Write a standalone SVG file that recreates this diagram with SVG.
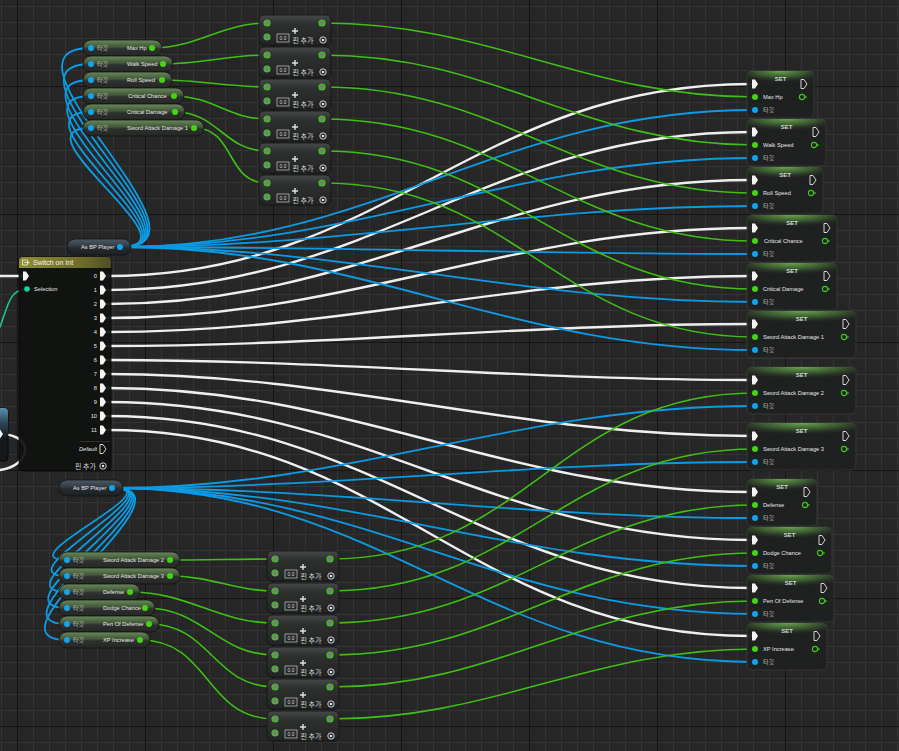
<svg xmlns="http://www.w3.org/2000/svg" width="899" height="751" viewBox="0 0 899 751">
<defs>
<pattern id="minor" patternUnits="userSpaceOnUse" x="1" y="6" width="16" height="16">
<rect width="16" height="16" fill="#262626"/>
<rect width="1" height="16" fill="#333333"/>
<rect width="16" height="1" fill="#333333"/>
</pattern>
<linearGradient id="getG" x1="0" y1="0" x2="0" y2="1">
<stop offset="0" stop-color="#6a8a5a"/>
<stop offset="0.45" stop-color="#40533a"/>
<stop offset="0.55" stop-color="#2d312c"/>
<stop offset="1" stop-color="#252725"/>
</linearGradient>
<linearGradient id="asG" x1="0" y1="0" x2="0" y2="1">
<stop offset="0" stop-color="#4c5a66"/>
<stop offset="0.45" stop-color="#313a42"/>
<stop offset="0.55" stop-color="#242a2e"/>
<stop offset="1" stop-color="#1d2124"/>
</linearGradient>
<linearGradient id="addG" x1="0" y1="0" x2="0" y2="1">
<stop offset="0" stop-color="#474848"/>
<stop offset="0.3" stop-color="#2e2f2f"/>
<stop offset="1" stop-color="#222323"/>
</linearGradient>
<radialGradient id="setH" cx="0.5" cy="0" r="0.75">
<stop offset="0" stop-color="#6aa84e"/>
<stop offset="0.5" stop-color="#3f6233" stop-opacity="0.85"/>
<stop offset="1" stop-color="#262626" stop-opacity="0"/>
</radialGradient>
<linearGradient id="swH" x1="0" y1="0" x2="1" y2="0">
<stop offset="0" stop-color="#8e8e2e"/>
<stop offset="0.7" stop-color="#6c6c28"/>
<stop offset="1" stop-color="#4e4e24"/>
</linearGradient>
<linearGradient id="blH" x1="0" y1="0" x2="0" y2="1">
<stop offset="0" stop-color="#5d8fb0"/>
<stop offset="0.5" stop-color="#2c4656"/>
<stop offset="1" stop-color="#15191c"/>
</linearGradient>
<style>
.t{font-family:"Liberation Sans","Noto Sans CJK KR",sans-serif;font-size:5.7px;fill:#e6e6e6}
.k{font-family:"Noto Sans CJK KR","Liberation Sans",sans-serif;font-size:6px;fill:#bdbdbd}
.k7{font-family:"Noto Sans CJK KR","Liberation Sans",sans-serif;font-size:7px;fill:#d8d8d8}
.st{font-family:"Liberation Sans",sans-serif;font-weight:bold;font-size:6px;fill:#d4d4d4;text-anchor:middle}
.end{text-anchor:end}
.get{fill:url(#getG);stroke:#111;stroke-width:0.8}
.as{fill:url(#asG);stroke:#111;stroke-width:0.8}
.addb{fill:url(#addG);stroke:#111;stroke-width:0.8}
.setb{fill:#1f2020;fill-opacity:0.95;stroke:#3a3b3a;stroke-width:0.8}
.seth{fill:url(#setH)}
.pb{fill:#12a3f0}
.pg{fill:#45d414}
.ap{fill:#7c7c7c;stroke:#3ccb18;stroke-width:1.2}
.ring{fill:none;stroke:#e0e0e0;stroke-width:0.9}
.box{fill:none;stroke:#c8c8c8;stroke-width:0.7}
.t0{font-family:"Liberation Sans",sans-serif;font-size:5px;fill:#d8d8d8;text-anchor:middle}
.plus{stroke:#e0e0e0;stroke-width:1.4;fill:none}
.ex{fill:#f4f4f4}
.exo{fill:none;stroke:#e6e6e6;stroke-width:0.9}
.vo{fill:none;stroke:#3ccb18;stroke-width:1.1}
.vot{fill:#3ccb18}
.wx{stroke:#efefef;stroke-width:2.4}
.wb{stroke:#0c9be2;stroke-width:1.8}
.wg{stroke:#3fbf14;stroke-width:1.6}
</style>
</defs>

<g id="grid">
<rect width="899" height="751" fill="url(#minor)"/>
<g fill="#141414">
<rect x="17" y="0" width="1" height="751"/>
<rect x="145" y="0" width="1" height="751"/>
<rect x="273" y="0" width="1" height="751"/>
<rect x="401" y="0" width="1" height="751"/>
<rect x="529" y="0" width="1" height="751"/>
<rect x="657" y="0" width="1" height="751"/>
<rect x="785" y="0" width="1" height="751"/>
<rect x="0" y="86" width="899" height="1"/>
<rect x="0" y="214" width="899" height="1"/>
<rect x="0" y="342" width="899" height="1"/>
<rect x="0" y="470" width="899" height="1"/>
<rect x="0" y="598" width="899" height="1"/>
<rect x="0" y="726" width="899" height="1"/>
</g>
</g>

<g id="connectors" fill="none" stroke-linecap="round">
<!-- exec -->
<path class="wx" d="M0 276 H24"/>
<path class="wx" d="M2 434 C36 436 30 466 0 470"/>
<path class="wx" d="M107 276 C385 276 473 84 751 84"/>
<path class="wx" d="M107 290 C374 290 484 132 751 132"/>
<path class="wx" d="M107 304 C363 304 495 180 751 180"/>
<path class="wx" d="M107 318 C351 318 507 228 751 228"/>
<path class="wx" d="M107 332 C340 332 518 276 751 276"/>
<path class="wx" d="M107 346 C329 346 529 324 751 324"/>
<path class="wx" d="M107 360 C328 360 530 380 751 380"/>
<path class="wx" d="M107 374 C342 374 516 436 751 436"/>
<path class="wx" d="M107 388 C356 388 502 492 751 492"/>
<path class="wx" d="M107 402 C367 402 491 540 751 540"/>
<path class="wx" d="M107 416 C379 416 479 588 751 588"/>
<path class="wx" d="M107 430 C390 430 468 636 751 636"/>
<!-- selection -->
<path d="M0 327 C8 305 10 289 27 289" stroke="#17c79a" stroke-width="1.6"/>
<!-- blue top loops -->
<path class="wb" d="M121 247 C231 247 -20 48 91 48"/>
<path class="wb" d="M121 247 C225 247 -14 64 91 64"/>
<path class="wb" d="M121 247 C219 247 -8 80 91 80"/>
<path class="wb" d="M121 247 C213 247 -2 96 91 96"/>
<path class="wb" d="M121 247 C207 247 4 112 91 112"/>
<path class="wb" d="M121 247 C201 247 10 128 91 128"/>
<!-- blue top to SET -->
<path class="wb" d="M121 247 C377 247 496 110 755 110"/>
<path class="wb" d="M121 247 C361 247 512 158 755 158"/>
<path class="wb" d="M121 247 C345 247 528 206 755 206"/>
<path class="wb" d="M121 247 C334 247 539 254 755 254"/>
<path class="wb" d="M121 247 C350 247 523 302 755 302"/>
<path class="wb" d="M121 247 C366 247 507 350 755 350"/>
<!-- blue bottom loops -->
<path class="wb" d="M113 488 C175 488 5 560 67 560"/>
<path class="wb" d="M113 488 C181 488 -1 576 67 576"/>
<path class="wb" d="M113 488 C187 488 -7 592 67 592"/>
<path class="wb" d="M113 488 C193 488 -13 608 67 608"/>
<path class="wb" d="M113 488 C199 488 -19 624 67 624"/>
<path class="wb" d="M113 488 C205 488 -25 640 67 640"/>
<!-- blue bottom to SET -->
<path class="wb" d="M113 488 C353 488 512 406 755 406"/>
<path class="wb" d="M113 488 C335 488 530 462 755 462"/>
<path class="wb" d="M113 488 C336 488 529 518 755 518"/>
<path class="wb" d="M113 488 C352 488 513 566 755 566"/>
<path class="wb" d="M113 488 C368 488 497 614 755 614"/>
<path class="wb" d="M113 488 C384 488 481 662 755 662"/>
<!-- green top get to add -->
<path class="wg" d="M152 48 C198 48 221 23 267 23"/>
<path class="wg" d="M163 64 C200 64 230 55 267 55"/>
<path class="wg" d="M162 80 C199 80 230 87 267 87"/>
<path class="wg" d="M174 96 C212 96 229 119 267 119"/>
<path class="wg" d="M175 112 C218 112 224 151 267 151"/>
<path class="wg" d="M194 128 C236 128 225 183 267 183"/>
<!-- green top add to SET -->
<path class="wg" d="M322 23 C491 23 585 97 755 97"/>
<path class="wg" d="M322 55 C497 55 579 145 755 145"/>
<path class="wg" d="M322 87 C502 87 574 193 755 193"/>
<path class="wg" d="M322 119 C507 119 569 241 755 241"/>
<path class="wg" d="M322 151 C513 151 563 289 755 289"/>
<path class="wg" d="M322 183 C518 183 558 337 755 337"/>
<!-- green bottom get to add -->
<path class="wg" d="M170 560 C205 560 240 559 275 559"/>
<path class="wg" d="M170 576 C210 576 236 591 275 591"/>
<path class="wg" d="M130 592 C189 592 217 623 275 623"/>
<path class="wg" d="M145 608 C204 608 217 655 275 655"/>
<path class="wg" d="M149 624 C211 624 213 687 275 687"/>
<path class="wg" d="M140 640 C211 640 204 719 275 719"/>
<!-- green bottom add to SET -->
<path class="wg" d="M330 559 C527 559 557 393 755 393"/>
<path class="wg" d="M330 591 C519 591 565 449 755 449"/>
<path class="wg" d="M330 623 C511 623 573 505 755 505"/>
<path class="wg" d="M330 655 C506 655 578 553 755 553"/>
<path class="wg" d="M330 687 C501 687 583 601 755 601"/>
<path class="wg" d="M330 719 C495 719 589 649 755 649"/>
</g>

<g id="left-node">
<rect x="-12" y="408" width="20" height="53" rx="4" fill="#15181a" stroke="#000" stroke-width="0.8"/>
<rect x="-12" y="408" width="20" height="30" rx="4" fill="url(#blH)"/>
<path class="ex" d="M-3 429.5 h3 l3 4.5 l-3 4.5 h-3 z"/>
</g>

<g id="switch-on-int">
<rect x="19" y="257" width="92" height="214" rx="4" fill="#101210" fill-opacity="0.93" stroke="#050505" stroke-width="0.8"/>
<path d="M19 268 V261 Q19 257 23 257 H107 Q111 257 111 261 V268 Z" fill="url(#swH)"/>
<path d="M22.5 260 h5 v5 h-5 z M24 262.5 h5 M27.5 261 l1.5 1.5 l-1.5 1.5" fill="none" stroke="#f0f0f0" stroke-width="0.8"/>
<text x="33" y="265" style="font-family:'Liberation Sans',sans-serif;font-size:7px;fill:#f2f2f2">Switch on Int</text>
<path class="ex" d="M23 271.5 h3 l3 4.5 l-3 4.5 h-3 z"/>
<circle cx="27" cy="289" r="2.8" fill="#17d0a0"/>
<text class="t" x="34" y="291">Selection</text>
<g class="t end">
<text x="97" y="278">0</text>
<text x="97" y="292">1</text>
<text x="97" y="306">2</text>
<text x="97" y="320">3</text>
<text x="97" y="334">4</text>
<text x="97" y="348">5</text>
<text x="97" y="362">6</text>
<text x="97" y="376">7</text>
<text x="97" y="390">8</text>
<text x="97" y="404">9</text>
<text x="97" y="418">10</text>
<text x="97" y="432">11</text>
</g>
<g class="ex">
<path d="M100 271.5 h3 l3 4.5 l-3 4.5 h-3 z"/>
<path d="M100 285.5 h3 l3 4.5 l-3 4.5 h-3 z"/>
<path d="M100 299.5 h3 l3 4.5 l-3 4.5 h-3 z"/>
<path d="M100 313.5 h3 l3 4.5 l-3 4.5 h-3 z"/>
<path d="M100 327.5 h3 l3 4.5 l-3 4.5 h-3 z"/>
<path d="M100 341.5 h3 l3 4.5 l-3 4.5 h-3 z"/>
<path d="M100 355.5 h3 l3 4.5 l-3 4.5 h-3 z"/>
<path d="M100 369.5 h3 l3 4.5 l-3 4.5 h-3 z"/>
<path d="M100 383.5 h3 l3 4.5 l-3 4.5 h-3 z"/>
<path d="M100 397.5 h3 l3 4.5 l-3 4.5 h-3 z"/>
<path d="M100 411.5 h3 l3 4.5 l-3 4.5 h-3 z"/>
<path d="M100 425.5 h3 l3 4.5 l-3 4.5 h-3 z"/>
</g>
<path d="M80 441.5 H110" stroke="#3a3a3a" stroke-width="0.8"/>
<text class="t end" x="97" y="451" font-style="italic">Default</text>
<path class="exo" d="M100 444.5 h3 l3 4.5 l-3 4.5 h-3 z"/>
<text class="k7 end" x="96" y="468.5">핀 추가</text>
<circle class="ring" cx="103" cy="466" r="3.2"/><circle cx="103" cy="466" r="1.3" fill="#ddd"/>
</g>

<g id="as-bp-player-1">
<rect class="as" x="67" y="239" width="64" height="16" rx="8"/>
<text class="t" x="81" y="249">As BP Player</text>
<circle class="pb" cx="120" cy="247" r="3"/>
</g>
<g id="as-bp-player-2">
<rect class="as" x="59" y="480" width="64" height="16" rx="8"/>
<text class="t" x="73" y="490">As BP Player</text>
<circle class="pb" cx="112" cy="488" r="3"/>
</g>

<g id="get-max-hp"><rect class="get" x="83" y="40" width="79" height="16" rx="8"/><circle class="pb" cx="91" cy="48" r="3"/><text class="k" x="97" y="50.2">타깃</text><text class="t" x="127" y="50">Max Hp</text><circle class="pg" cx="152" cy="48" r="3"/></g>
<g id="get-walk-speed"><rect class="get" x="83" y="56" width="90" height="16" rx="8"/><circle class="pb" cx="91" cy="64" r="3"/><text class="k" x="97" y="66.2">타깃</text><text class="t" x="127" y="66">Walk Speed</text><circle class="pg" cx="163" cy="64" r="3"/></g>
<g id="get-roll-speed"><rect class="get" x="83" y="72" width="89" height="16" rx="8"/><circle class="pb" cx="91" cy="80" r="3"/><text class="k" x="97" y="82.2">타깃</text><text class="t" x="127" y="82">Roll Speed</text><circle class="pg" cx="162" cy="80" r="3"/></g>
<g id="get-critical-chance"><rect class="get" x="83" y="88" width="101" height="16" rx="8"/><circle class="pb" cx="91" cy="96" r="3"/><text class="k" x="97" y="98.2">타깃</text><text class="t" x="128" y="98">Critical Chance</text><circle class="pg" cx="174" cy="96" r="3"/></g>
<g id="get-critical-damage"><rect class="get" x="83" y="104" width="102" height="16" rx="8"/><circle class="pb" cx="91" cy="112" r="3"/><text class="k" x="97" y="114.2">타깃</text><text class="t" x="127" y="114">Critical Damage</text><circle class="pg" cx="175" cy="112" r="3"/></g>
<g id="get-sword-attack-damage-1"><rect class="get" x="83" y="120" width="121" height="16" rx="8"/><circle class="pb" cx="91" cy="128" r="3"/><text class="k" x="97" y="130.2">타깃</text><text class="t" x="127" y="130">Sword Attack Damage 1</text><circle class="pg" cx="194" cy="128" r="3"/></g>

<g id="get-sword-attack-damage-2"><rect class="get" x="59" y="552" width="121" height="16" rx="8"/><circle class="pb" cx="67" cy="560" r="3"/><text class="k" x="73" y="562.2">타깃</text><text class="t" x="103" y="562">Sword Attack Damage 2</text><circle class="pg" cx="170" cy="560" r="3"/></g>
<g id="get-sword-attack-damage-3"><rect class="get" x="59" y="568" width="121" height="16" rx="8"/><circle class="pb" cx="67" cy="576" r="3"/><text class="k" x="73" y="578.2">타깃</text><text class="t" x="103" y="578">Sword Attack Damage 3</text><circle class="pg" cx="170" cy="576" r="3"/></g>
<g id="get-defense"><rect class="get" x="59" y="584" width="81" height="16" rx="8"/><circle class="pb" cx="67" cy="592" r="3"/><text class="k" x="73" y="594.2">타깃</text><text class="t" x="103" y="594">Defense</text><circle class="pg" cx="130" cy="592" r="3"/></g>
<g id="get-dodge-chance"><rect class="get" x="59" y="600" width="96" height="16" rx="8"/><circle class="pb" cx="67" cy="608" r="3"/><text class="k" x="73" y="610.2">타깃</text><text class="t" x="103" y="610">Dodge Chance</text><circle class="pg" cx="145" cy="608" r="3"/></g>
<g id="get-pen-of-defense"><rect class="get" x="59" y="616" width="100" height="16" rx="8"/><circle class="pb" cx="67" cy="624" r="3"/><text class="k" x="73" y="626.2">타깃</text><text class="t" x="103" y="626">Pen Of Defense</text><circle class="pg" cx="149" cy="624" r="3"/></g>
<g id="get-xp-increase"><rect class="get" x="59" y="632" width="91" height="16" rx="8"/><circle class="pb" cx="67" cy="640" r="3"/><text class="k" x="73" y="642.2">타깃</text><text class="t" x="103" y="642">XP Increase</text><circle class="pg" cx="140" cy="640" r="3"/></g>

<!-- Add nodes top -->
<g id="add-1" transform="translate(259,15)"><rect class="addb" width="72" height="30" rx="5"/><circle class="ap" cx="8" cy="8" r="3"/><circle class="ap" cx="8" cy="22" r="3"/><circle class="ap" cx="63" cy="8" r="3"/><path class="plus" d="M36 13v6M33 16h6"/><rect class="box" x="18" y="19" width="12" height="8"/><text class="t0" x="24" y="24.8">0.0</text><text class="k7" x="33.5" y="27.6">핀 추가</text><circle class="ring" cx="64" cy="25" r="3.2"/><circle cx="64" cy="25" r="1.3" fill="#ddd"/></g>
<g id="add-2" transform="translate(259,47)"><rect class="addb" width="72" height="30" rx="5"/><circle class="ap" cx="8" cy="8" r="3"/><circle class="ap" cx="8" cy="22" r="3"/><circle class="ap" cx="63" cy="8" r="3"/><path class="plus" d="M36 13v6M33 16h6"/><rect class="box" x="18" y="19" width="12" height="8"/><text class="t0" x="24" y="24.8">0.0</text><text class="k7" x="33.5" y="27.6">핀 추가</text><circle class="ring" cx="64" cy="25" r="3.2"/><circle cx="64" cy="25" r="1.3" fill="#ddd"/></g>
<g id="add-3" transform="translate(259,79)"><rect class="addb" width="72" height="30" rx="5"/><circle class="ap" cx="8" cy="8" r="3"/><circle class="ap" cx="8" cy="22" r="3"/><circle class="ap" cx="63" cy="8" r="3"/><path class="plus" d="M36 13v6M33 16h6"/><rect class="box" x="18" y="19" width="12" height="8"/><text class="t0" x="24" y="24.8">0.0</text><text class="k7" x="33.5" y="27.6">핀 추가</text><circle class="ring" cx="64" cy="25" r="3.2"/><circle cx="64" cy="25" r="1.3" fill="#ddd"/></g>
<g id="add-4" transform="translate(259,111)"><rect class="addb" width="72" height="30" rx="5"/><circle class="ap" cx="8" cy="8" r="3"/><circle class="ap" cx="8" cy="22" r="3"/><circle class="ap" cx="63" cy="8" r="3"/><path class="plus" d="M36 13v6M33 16h6"/><rect class="box" x="18" y="19" width="12" height="8"/><text class="t0" x="24" y="24.8">0.0</text><text class="k7" x="33.5" y="27.6">핀 추가</text><circle class="ring" cx="64" cy="25" r="3.2"/><circle cx="64" cy="25" r="1.3" fill="#ddd"/></g>
<g id="add-5" transform="translate(259,143)"><rect class="addb" width="72" height="30" rx="5"/><circle class="ap" cx="8" cy="8" r="3"/><circle class="ap" cx="8" cy="22" r="3"/><circle class="ap" cx="63" cy="8" r="3"/><path class="plus" d="M36 13v6M33 16h6"/><rect class="box" x="18" y="19" width="12" height="8"/><text class="t0" x="24" y="24.8">0.0</text><text class="k7" x="33.5" y="27.6">핀 추가</text><circle class="ring" cx="64" cy="25" r="3.2"/><circle cx="64" cy="25" r="1.3" fill="#ddd"/></g>
<g id="add-6" transform="translate(259,175)"><rect class="addb" width="72" height="30" rx="5"/><circle class="ap" cx="8" cy="8" r="3"/><circle class="ap" cx="8" cy="22" r="3"/><circle class="ap" cx="63" cy="8" r="3"/><path class="plus" d="M36 13v6M33 16h6"/><rect class="box" x="18" y="19" width="12" height="8"/><text class="t0" x="24" y="24.8">0.0</text><text class="k7" x="33.5" y="27.6">핀 추가</text><circle class="ring" cx="64" cy="25" r="3.2"/><circle cx="64" cy="25" r="1.3" fill="#ddd"/></g>

<!-- Add nodes bottom -->
<g id="add-7" transform="translate(267,551)"><rect class="addb" width="72" height="30" rx="5"/><circle class="ap" cx="8" cy="8" r="3"/><circle class="ap" cx="8" cy="22" r="3"/><circle class="ap" cx="63" cy="8" r="3"/><path class="plus" d="M36 13v6M33 16h6"/><rect class="box" x="18" y="19" width="12" height="8"/><text class="t0" x="24" y="24.8">0.0</text><text class="k7" x="33.5" y="27.6">핀 추가</text><circle class="ring" cx="64" cy="25" r="3.2"/><circle cx="64" cy="25" r="1.3" fill="#ddd"/></g>
<g id="add-8" transform="translate(267,583)"><rect class="addb" width="72" height="30" rx="5"/><circle class="ap" cx="8" cy="8" r="3"/><circle class="ap" cx="8" cy="22" r="3"/><circle class="ap" cx="63" cy="8" r="3"/><path class="plus" d="M36 13v6M33 16h6"/><rect class="box" x="18" y="19" width="12" height="8"/><text class="t0" x="24" y="24.8">0.0</text><text class="k7" x="33.5" y="27.6">핀 추가</text><circle class="ring" cx="64" cy="25" r="3.2"/><circle cx="64" cy="25" r="1.3" fill="#ddd"/></g>
<g id="add-9" transform="translate(267,615)"><rect class="addb" width="72" height="30" rx="5"/><circle class="ap" cx="8" cy="8" r="3"/><circle class="ap" cx="8" cy="22" r="3"/><circle class="ap" cx="63" cy="8" r="3"/><path class="plus" d="M36 13v6M33 16h6"/><rect class="box" x="18" y="19" width="12" height="8"/><text class="t0" x="24" y="24.8">0.0</text><text class="k7" x="33.5" y="27.6">핀 추가</text><circle class="ring" cx="64" cy="25" r="3.2"/><circle cx="64" cy="25" r="1.3" fill="#ddd"/></g>
<g id="add-10" transform="translate(267,647)"><rect class="addb" width="72" height="30" rx="5"/><circle class="ap" cx="8" cy="8" r="3"/><circle class="ap" cx="8" cy="22" r="3"/><circle class="ap" cx="63" cy="8" r="3"/><path class="plus" d="M36 13v6M33 16h6"/><rect class="box" x="18" y="19" width="12" height="8"/><text class="t0" x="24" y="24.8">0.0</text><text class="k7" x="33.5" y="27.6">핀 추가</text><circle class="ring" cx="64" cy="25" r="3.2"/><circle cx="64" cy="25" r="1.3" fill="#ddd"/></g>
<g id="add-11" transform="translate(267,679)"><rect class="addb" width="72" height="30" rx="5"/><circle class="ap" cx="8" cy="8" r="3"/><circle class="ap" cx="8" cy="22" r="3"/><circle class="ap" cx="63" cy="8" r="3"/><path class="plus" d="M36 13v6M33 16h6"/><rect class="box" x="18" y="19" width="12" height="8"/><text class="t0" x="24" y="24.8">0.0</text><text class="k7" x="33.5" y="27.6">핀 추가</text><circle class="ring" cx="64" cy="25" r="3.2"/><circle cx="64" cy="25" r="1.3" fill="#ddd"/></g>
<g id="add-12" transform="translate(267,711)"><rect class="addb" width="72" height="30" rx="5"/><circle class="ap" cx="8" cy="8" r="3"/><circle class="ap" cx="8" cy="22" r="3"/><circle class="ap" cx="63" cy="8" r="3"/><path class="plus" d="M36 13v6M33 16h6"/><rect class="box" x="18" y="19" width="12" height="8"/><text class="t0" x="24" y="24.8">0.0</text><text class="k7" x="33.5" y="27.6">핀 추가</text><circle class="ring" cx="64" cy="25" r="3.2"/><circle cx="64" cy="25" r="1.3" fill="#ddd"/></g>

<!-- SET nodes -->
<g id="set-max-hp" transform="translate(747,71)"><rect class="setb" width="67" height="47" rx="5"/><rect class="seth" width="67" height="16" rx="5"/><text class="st" x="33.5" y="10">SET</text><path class="ex" d="M5 8.5 h3 l3 4.5 l-3 4.5 h-3 z"/><path class="exo" d="M54 8.5 h3 l3 4.5 l-3 4.5 h-3 z"/><circle class="pg" cx="8" cy="26" r="3"/><text class="t" x="16" y="28">Max Hp</text><circle class="vo" cx="55" cy="26" r="2.6"/><path class="vot" d="M58.3 24.5 l1.8 1.5 l-1.8 1.5 z"/><circle class="pb" cx="8" cy="39" r="3"/><text class="k" x="16" y="41.2">타깃</text></g>
<g id="set-walk-speed" transform="translate(747,119)"><rect class="setb" width="79" height="47" rx="5"/><rect class="seth" width="79" height="16" rx="5"/><text class="st" x="39.5" y="10">SET</text><path class="ex" d="M5 8.5 h3 l3 4.5 l-3 4.5 h-3 z"/><path class="exo" d="M66 8.5 h3 l3 4.5 l-3 4.5 h-3 z"/><circle class="pg" cx="8" cy="26" r="3"/><text class="t" x="16" y="28">Walk Speed</text><circle class="vo" cx="67" cy="26" r="2.6"/><path class="vot" d="M70.3 24.5 l1.8 1.5 l-1.8 1.5 z"/><circle class="pb" cx="8" cy="39" r="3"/><text class="k" x="16" y="41.2">타깃</text></g>
<g id="set-roll-speed" transform="translate(747,167)"><rect class="setb" width="76" height="47" rx="5"/><rect class="seth" width="76" height="16" rx="5"/><text class="st" x="38" y="10">SET</text><path class="ex" d="M5 8.5 h3 l3 4.5 l-3 4.5 h-3 z"/><path class="exo" d="M63 8.5 h3 l3 4.5 l-3 4.5 h-3 z"/><circle class="pg" cx="8" cy="26" r="3"/><text class="t" x="16" y="28">Roll Speed</text><circle class="vo" cx="64" cy="26" r="2.6"/><path class="vot" d="M67.3 24.5 l1.8 1.5 l-1.8 1.5 z"/><circle class="pb" cx="8" cy="39" r="3"/><text class="k" x="16" y="41.2">타깃</text></g>
<g id="set-critical-chance" transform="translate(747,215)"><rect class="setb" width="90" height="47" rx="5"/><rect class="seth" width="90" height="16" rx="5"/><text class="st" x="45" y="10">SET</text><path class="ex" d="M5 8.5 h3 l3 4.5 l-3 4.5 h-3 z"/><path class="exo" d="M77 8.5 h3 l3 4.5 l-3 4.5 h-3 z"/><circle class="pg" cx="8" cy="26" r="3"/><text class="t" x="17" y="28">Critical Chance</text><circle class="vo" cx="78" cy="26" r="2.6"/><path class="vot" d="M81.3 24.5 l1.8 1.5 l-1.8 1.5 z"/><circle class="pb" cx="8" cy="39" r="3"/><text class="k" x="16" y="41.2">타깃</text></g>
<g id="set-critical-damage" transform="translate(747,263)"><rect class="setb" width="90" height="47" rx="5"/><rect class="seth" width="90" height="16" rx="5"/><text class="st" x="45" y="10">SET</text><path class="ex" d="M5 8.5 h3 l3 4.5 l-3 4.5 h-3 z"/><path class="exo" d="M77 8.5 h3 l3 4.5 l-3 4.5 h-3 z"/><circle class="pg" cx="8" cy="26" r="3"/><text class="t" x="16" y="28">Critical Damage</text><circle class="vo" cx="78" cy="26" r="2.6"/><path class="vot" d="M81.3 24.5 l1.8 1.5 l-1.8 1.5 z"/><circle class="pb" cx="8" cy="39" r="3"/><text class="k" x="16" y="41.2">타깃</text></g>
<g id="set-sword-attack-damage-1" transform="translate(747,311)"><rect class="setb" width="109" height="47" rx="5"/><rect class="seth" width="109" height="16" rx="5"/><text class="st" x="54.5" y="10">SET</text><path class="ex" d="M5 8.5 h3 l3 4.5 l-3 4.5 h-3 z"/><path class="exo" d="M96 8.5 h3 l3 4.5 l-3 4.5 h-3 z"/><circle class="pg" cx="8" cy="26" r="3"/><text class="t" x="16" y="28">Sword Attack Damage 1</text><circle class="vo" cx="97" cy="26" r="2.6"/><path class="vot" d="M100.3 24.5 l1.8 1.5 l-1.8 1.5 z"/><circle class="pb" cx="8" cy="39" r="3"/><text class="k" x="16" y="41.2">타깃</text></g>
<g id="set-sword-attack-damage-2" transform="translate(747,367)"><rect class="setb" width="109" height="47" rx="5"/><rect class="seth" width="109" height="16" rx="5"/><text class="st" x="54.5" y="10">SET</text><path class="ex" d="M5 8.5 h3 l3 4.5 l-3 4.5 h-3 z"/><path class="exo" d="M96 8.5 h3 l3 4.5 l-3 4.5 h-3 z"/><circle class="pg" cx="8" cy="26" r="3"/><text class="t" x="16" y="28">Sword Attack Damage 2</text><circle class="vo" cx="97" cy="26" r="2.6"/><path class="vot" d="M100.3 24.5 l1.8 1.5 l-1.8 1.5 z"/><circle class="pb" cx="8" cy="39" r="3"/><text class="k" x="16" y="41.2">타깃</text></g>
<g id="set-sword-attack-damage-3" transform="translate(747,423)"><rect class="setb" width="109" height="47" rx="5"/><rect class="seth" width="109" height="16" rx="5"/><text class="st" x="54.5" y="10">SET</text><path class="ex" d="M5 8.5 h3 l3 4.5 l-3 4.5 h-3 z"/><path class="exo" d="M96 8.5 h3 l3 4.5 l-3 4.5 h-3 z"/><circle class="pg" cx="8" cy="26" r="3"/><text class="t" x="16" y="28">Sword Attack Damage 3</text><circle class="vo" cx="97" cy="26" r="2.6"/><path class="vot" d="M100.3 24.5 l1.8 1.5 l-1.8 1.5 z"/><circle class="pb" cx="8" cy="39" r="3"/><text class="k" x="16" y="41.2">타깃</text></g>
<g id="set-defense" transform="translate(747,479)"><rect class="setb" width="70" height="47" rx="5"/><rect class="seth" width="70" height="16" rx="5"/><text class="st" x="35" y="10">SET</text><path class="ex" d="M5 8.5 h3 l3 4.5 l-3 4.5 h-3 z"/><path class="exo" d="M57 8.5 h3 l3 4.5 l-3 4.5 h-3 z"/><circle class="pg" cx="8" cy="26" r="3"/><text class="t" x="16" y="28">Defense</text><circle class="vo" cx="58" cy="26" r="2.6"/><path class="vot" d="M61.3 24.5 l1.8 1.5 l-1.8 1.5 z"/><circle class="pb" cx="8" cy="39" r="3"/><text class="k" x="16" y="41.2">타깃</text></g>
<g id="set-dodge-chance" transform="translate(747,527)"><rect class="setb" width="85" height="47" rx="5"/><rect class="seth" width="85" height="16" rx="5"/><text class="st" x="42.5" y="10">SET</text><path class="ex" d="M5 8.5 h3 l3 4.5 l-3 4.5 h-3 z"/><path class="exo" d="M72 8.5 h3 l3 4.5 l-3 4.5 h-3 z"/><circle class="pg" cx="8" cy="26" r="3"/><text class="t" x="16" y="28">Dodge Chance</text><circle class="vo" cx="73" cy="26" r="2.6"/><path class="vot" d="M76.3 24.5 l1.8 1.5 l-1.8 1.5 z"/><circle class="pb" cx="8" cy="39" r="3"/><text class="k" x="16" y="41.2">타깃</text></g>
<g id="set-pen-of-defense" transform="translate(747,575)"><rect class="setb" width="87" height="47" rx="5"/><rect class="seth" width="87" height="16" rx="5"/><text class="st" x="43.5" y="10">SET</text><path class="ex" d="M5 8.5 h3 l3 4.5 l-3 4.5 h-3 z"/><path class="exo" d="M74 8.5 h3 l3 4.5 l-3 4.5 h-3 z"/><circle class="pg" cx="8" cy="26" r="3"/><text class="t" x="16" y="28">Pen Of Defense</text><circle class="vo" cx="75" cy="26" r="2.6"/><path class="vot" d="M78.3 24.5 l1.8 1.5 l-1.8 1.5 z"/><circle class="pb" cx="8" cy="39" r="3"/><text class="k" x="16" y="41.2">타깃</text></g>
<g id="set-xp-increase" transform="translate(747,623)"><rect class="setb" width="80" height="47" rx="5"/><rect class="seth" width="80" height="16" rx="5"/><text class="st" x="40" y="10">SET</text><path class="ex" d="M5 8.5 h3 l3 4.5 l-3 4.5 h-3 z"/><path class="exo" d="M67 8.5 h3 l3 4.5 l-3 4.5 h-3 z"/><circle class="pg" cx="8" cy="26" r="3"/><text class="t" x="16" y="28">XP Increase</text><circle class="vo" cx="68" cy="26" r="2.6"/><path class="vot" d="M71.3 24.5 l1.8 1.5 l-1.8 1.5 z"/><circle class="pb" cx="8" cy="39" r="3"/><text class="k" x="16" y="41.2">타깃</text></g>
</svg>
